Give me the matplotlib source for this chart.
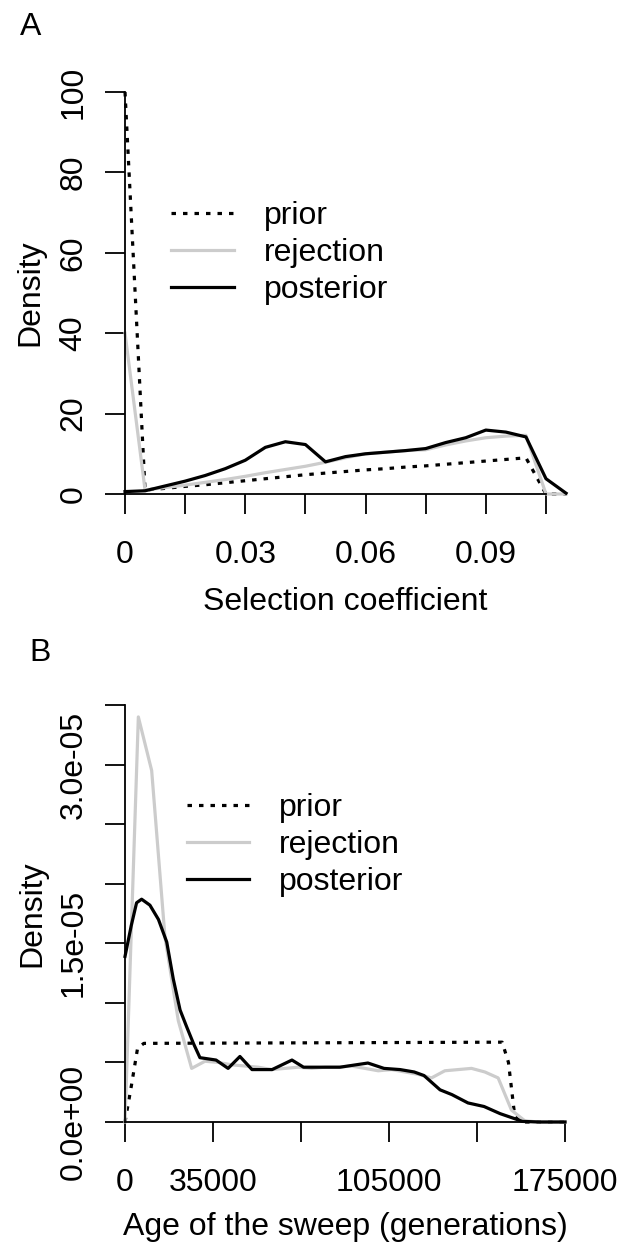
import matplotlib
matplotlib.use("Agg")
import matplotlib.pyplot as plt

plt.rcParams['font.family'] = ['Liberation Sans', 'DejaVu Sans']
plt.rcParams['font.size'] = 23

# Panel A: selection coefficient densities
sel_x = [0, 0.005, 0.01, 0.015, 0.02, 0.025, 0.03, 0.035, 0.04, 0.045, 0.05, 0.055,
         0.06, 0.065, 0.07, 0.075, 0.08, 0.085, 0.09, 0.095, 0.1, 0.105, 0.11]
sel_prior = [100, 1.0, 1.4, 1.9, 2.3, 2.8, 3.3, 3.8, 4.3, 4.8, 5.2, 5.6,
             6.0, 6.3, 6.7, 7.0, 7.4, 7.8, 8.2, 8.6, 9.0, 0, 0]
sel_rejection = [40, 1.0, 1.6, 2.2, 2.9, 3.6, 4.4, 5.3, 6.1, 6.9, 7.9, 9.0,
                 10.0, 10.4, 10.8, 11.0, 12.2, 13.2, 14.0, 14.4, 14.6, 0, 0]
sel_posterior = [0.6, 0.8, 2.0, 3.2, 4.6, 6.3, 8.4, 11.6, 13.0, 12.3, 8.0, 9.3,
                 10.0, 10.4, 10.8, 11.3, 12.8, 14.0, 15.9, 15.4, 14.2, 3.8, 0.2]
sel_ticks = [0, 0.015, 0.03, 0.045, 0.06, 0.075, 0.09, 0.105]
sel_ticklabels = ['0', '', '0.03', '', '0.06', '', '0.09', '']

# Panel B: age of the sweep densities (values in 1e-6)
age_prior_x = [0, 2500, 5000, 7500, 150000, 152500, 155000, 157500, 175000]
age_prior = [0, 3.0, 6.2, 6.6, 6.7, 5.0, 0.5, 0, 0]
age_rej_x = [0, 5300, 10600, 15900, 21200, 26500, 31800, 37100, 42400, 47700, 53000,
             58300, 63600, 68900, 74200, 79500, 84800, 90100, 95400, 100700, 106000,
             111300, 116600, 121900, 127200, 132500, 137800, 143100, 148400, 153700,
             159000, 164300, 169600, 175000]
age_rejection = [0, 34.0, 29.5, 15.5, 8.5, 4.5, 5.1, 5.0, 4.8, 4.7, 4.6,
                 4.4, 4.5, 4.6, 4.5, 4.6, 4.6, 4.7, 4.5, 4.3, 4.4,
                 4.2, 4.0, 3.7, 4.3, 4.4, 4.5, 4.2, 3.7, 1.0,
                 0.1, 0.0, 0.0, 0.0]
age_post_x = [0, 2500, 4600, 6600, 9900, 13300, 16600, 19200, 21900, 24500, 27200, 29800,
              33000, 36200, 41000, 45700, 50500, 58500, 66400, 71000, 76000, 85500, 96600,
              103000, 109400, 115000, 118900, 125300, 130000, 136400, 142800, 149200,
              154700, 158000, 165000, 175000]
age_posterior = [13.9, 16.5, 18.4, 18.7, 18.2, 17.0, 15.1, 12.0, 9.4, 8.0, 6.6, 5.4,
                 5.3, 5.2, 4.5, 5.5, 4.4, 4.4, 5.2, 4.6, 4.6, 4.6, 4.95,
                 4.5, 4.4, 4.2, 3.9, 2.7, 2.3, 1.6, 1.3, 0.7,
                 0.3, 0.05, 0.0, 0.0]
age_yticks = [0, 5e-6, 1e-5, 1.5e-5, 2e-5, 2.5e-5, 3e-5, 3.5e-5]
age_yticklabels = ['0.0e+00', '', '', '1.5e-05', '', '', '3.0e-05', '']
age_xticks = [0, 35000, 70000, 105000, 140000, 175000]
age_xticklabels = ['0', '35000', '', '105000', '', '175000']

labels = ['prior', 'rejection', 'posterior']
GREY = '#cccccc'
LW = 2.3
DOT = (0, (1.4, 2.2))


def style_axes(ax, xbound, ybound):
    for s in ['top', 'right']:
        ax.spines[s].set_visible(False)
    for s in ['left', 'bottom']:
        ax.spines[s].set_linewidth(1.3)
    ax.spines['bottom'].set_bounds(*xbound)
    ax.spines['left'].set_bounds(*ybound)
    ax.tick_params(direction='out', length=14.4, width=1.3)
    ax.tick_params(axis='x', pad=19)
    ax.tick_params(axis='y', pad=12)
    for lab in ax.get_yticklabels():
        lab.set_rotation(90)
        lab.set_va('center')


fig = plt.figure(figsize=(6.26, 12.5), dpi=100)

# --- panel A
axA = fig.add_axes([0.1997, 0.6048, 0.7045, 0.3216])
axA.plot(sel_x, sel_prior, color='black', lw=LW, ls=DOT, clip_on=False)
axA.plot(sel_x, sel_rejection, color=GREY, lw=LW, clip_on=False)
axA.plot(sel_x, sel_posterior, color='black', lw=LW, clip_on=False)
axA.set_xlim(0, 0.11)
axA.set_ylim(0, 100)
axA.set_xticks(sel_ticks)
axA.set_xticklabels(sel_ticklabels)
axA.set_yticks([0, 20, 40, 60, 80, 100])
axA.set_yticklabels(['0', '20', '40', '60', '80', '100'])
style_axes(axA, (0, 0.105), (0, 100))
axA.set_xlabel('Selection coefficient')
axA.set_ylabel('Density')
axA.xaxis.set_label_coords(0.5, -0.268)
axA.xaxis.label.set_va('center')
axA.yaxis.set_label_coords(-0.215, 0.5)
axA.yaxis.label.set_va('center')
axA.legend(labels, loc='upper left', bbox_to_anchor=(0.105, 0.728), frameon=False,
           handlelength=1.95, handletextpad=0.95, labelspacing=0.22,
           borderpad=0, borderaxespad=0)

# --- panel B
axB = fig.add_axes([0.1997, 0.1024, 0.7029, 0.3336])
axB.plot(age_prior_x, [v * 1e-6 for v in age_prior], color='black', lw=LW, ls=DOT, clip_on=False)
axB.plot(age_rej_x, [v * 1e-6 for v in age_rejection], color=GREY, lw=LW, clip_on=False)
axB.plot(age_post_x, [v * 1e-6 for v in age_posterior], color='black', lw=LW, clip_on=False)
axB.set_xlim(0, 175000)
axB.set_ylim(0, 3.5e-5)
axB.set_xticks(age_xticks)
axB.set_xticklabels(age_xticklabels)
axB.set_yticks(age_yticks)
axB.set_yticklabels(age_yticklabels)
style_axes(axB, (0, 175000), (0, 3.5e-5))
axB.set_xlabel('Age of the sweep (generations)')
axB.set_ylabel('Density')
axB.xaxis.set_label_coords(0.5, -0.252)
axB.xaxis.label.set_va('center')
axB.yaxis.set_label_coords(-0.21, 0.5)
axB.yaxis.label.set_va('center')
axB.legend(labels, loc='upper left', bbox_to_anchor=(0.14, 0.789), frameon=False,
           handlelength=1.95, handletextpad=0.95, labelspacing=0.22,
           borderpad=0, borderaxespad=0)

fig.text(0.0495, 0.9785, 'A', ha='center', va='center')
fig.text(0.0639, 0.4775, 'B', ha='center', va='center')

fig.savefig('out.png', dpi=100)
